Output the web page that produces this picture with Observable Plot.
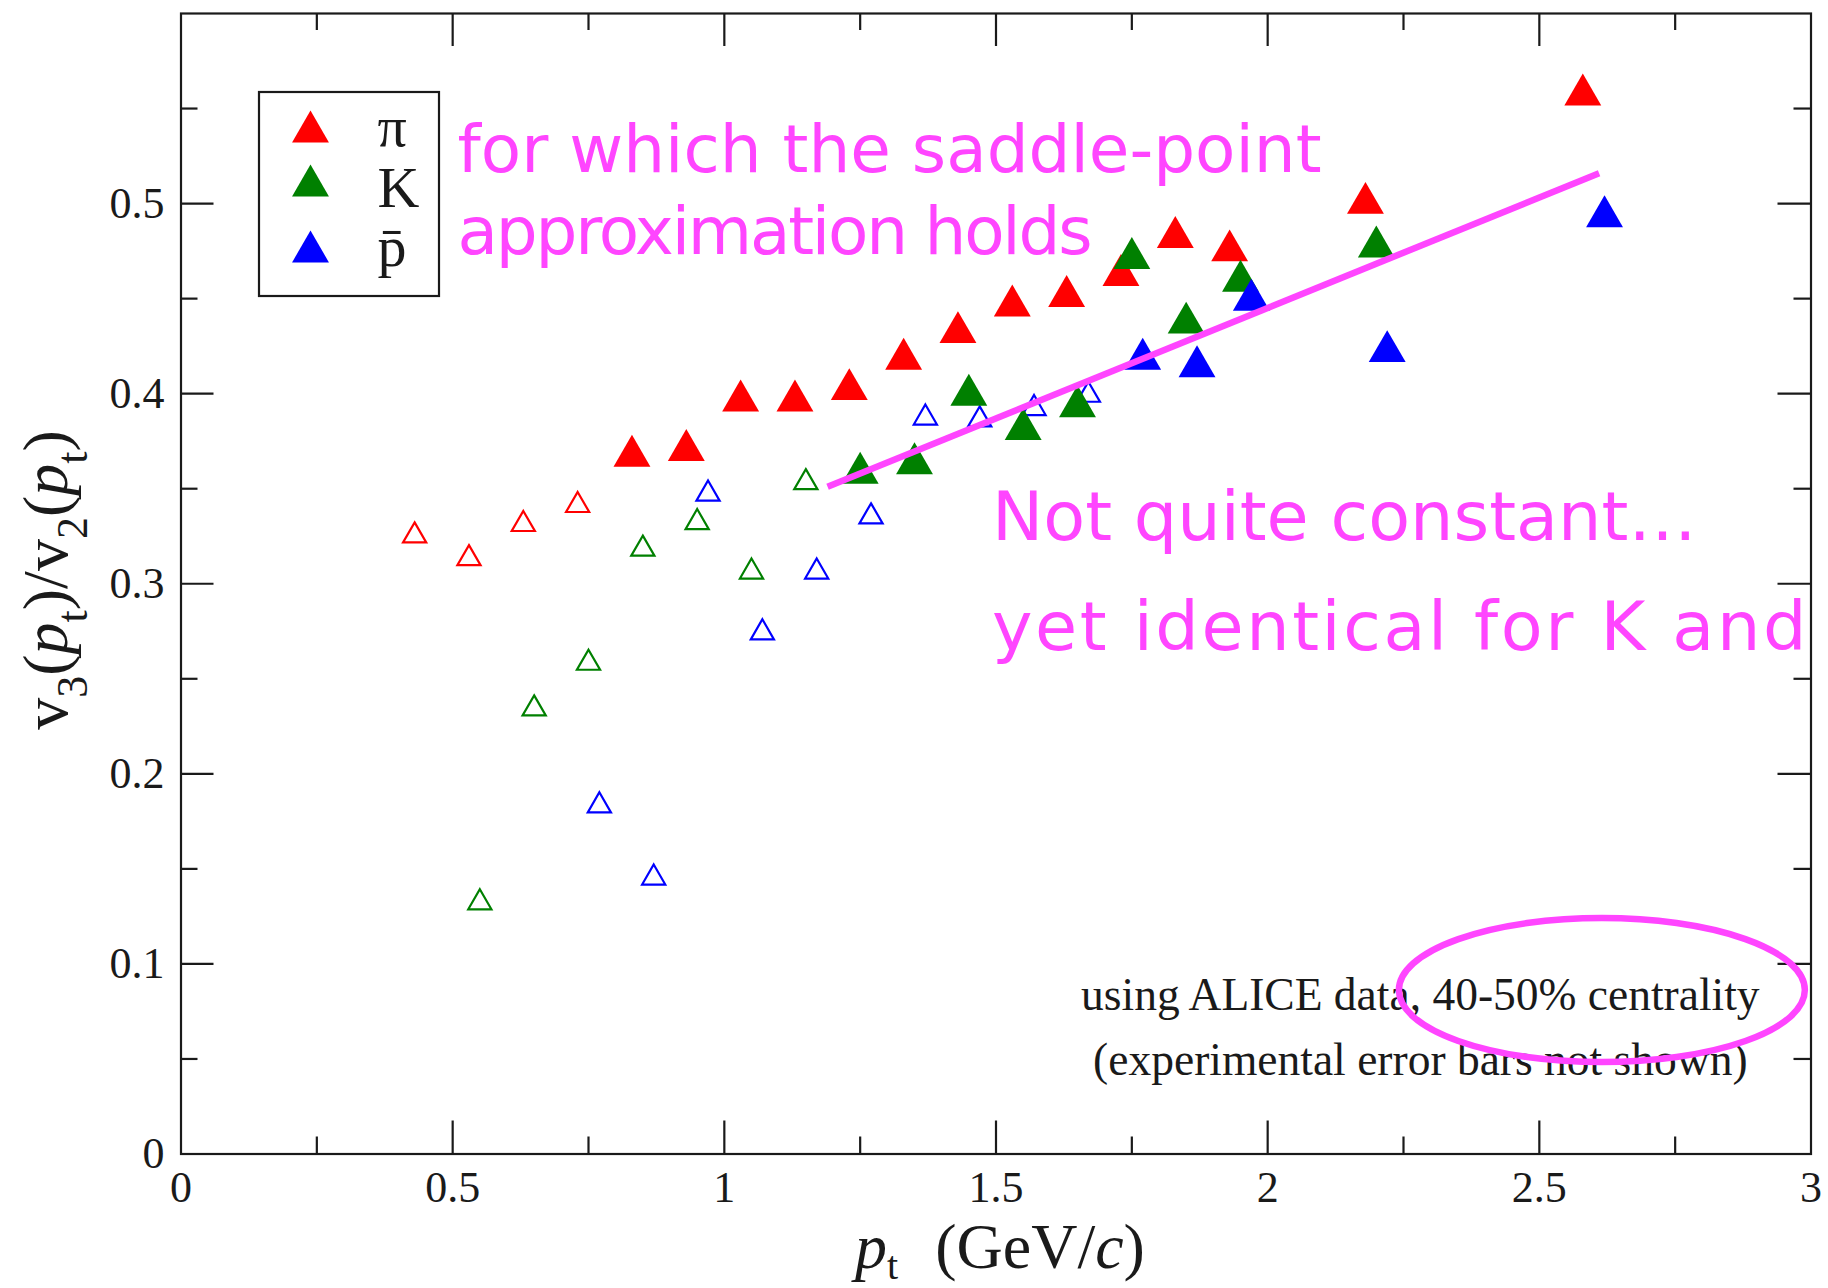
<!DOCTYPE html>
<html>
<head>
<meta charset="utf-8">
<script src="https://cdn.jsdelivr.net/npm/d3@7"></script>
<script src="https://cdn.jsdelivr.net/npm/@observablehq/plot@0.6"></script>
<style>
  html, body { margin: 0; padding: 0; background: #fff; }
  svg { display: block; }
</style>
</head>
<body>
<div id="chart"></div>
<script>
// ---------- data ----------
const piOpenX   = [0.43, 0.53, 0.63, 0.73];
const piOpenY   = [0.327, 0.315, 0.333, 0.343];
const piFullX   = [0.83, 0.93, 1.03, 1.13, 1.23, 1.33, 1.43, 1.53, 1.63, 1.73, 1.83, 1.93, 2.18, 2.58];
const piFullY   = [0.370, 0.373, 0.399, 0.399, 0.405, 0.421, 0.435, 0.449, 0.454, 0.465, 0.485, 0.478, 0.503, 0.560];

const kOpenX    = [0.55, 0.65, 0.75, 0.85, 0.95, 1.05, 1.15];
const kOpenY    = [0.134, 0.236, 0.260, 0.320, 0.334, 0.308, 0.355];
const kFullX    = [1.25, 1.35, 1.45, 1.55, 1.65, 1.75, 1.85, 1.95, 2.20];
const kFullY    = [0.361, 0.366, 0.402, 0.384, 0.396, 0.474, 0.440, 0.462, 0.480];

const pOpenX    = [0.77, 0.87, 0.97, 1.07, 1.17, 1.27, 1.37, 1.47, 1.57, 1.67];
const pOpenY    = [0.185, 0.147, 0.349, 0.276, 0.308, 0.337, 0.389, 0.388, 0.394, 0.401];
const pFullX    = [1.77, 1.87, 1.97, 2.22, 2.62];
const pFullY    = [0.421, 0.417, 0.452, 0.425, 0.496];

// annotation line (pink)
const trendX = [1.19, 2.61];
const trendY = [0.351, 0.516];

// ticks
const xTickLabels = [0, 0.5, 1, 1.5, 2, 2.5, 3];
const xMajor = [0.5, 1, 1.5, 2, 2.5];
const xMinor = [0.25, 0.75, 1.25, 1.75, 2.25, 2.75];
const yTickLabels = [0, 0.1, 0.2, 0.3, 0.4, 0.5];
const yMajor = [0.1, 0.2, 0.3, 0.4, 0.5];
const yMinor = [0.05, 0.15, 0.25, 0.35, 0.45, 0.55];

// legend
const legendLabels = ["π", "K", "p\u0304"];
const legendColors = ["#ff0000", "#008000", "#0000ff"];

// texts
const note1Lines = ["for which the saddle-point", "approximation holds"];
const note2Lines = ["Not quite constant…", "yet identical for K and"];
const captionLines = ["using ALICE data, 40-50% centrality", "(experimental error bars not shown)"];

// ---------- build ----------
const zip = (xs, ys) => xs.map((x, i) => ({x, y: ys[i]}));
const W = 1828, H = 1288;
const mL = 180.5, mR = 17.5, mT = 13, mB = 134.5;
const plotW = W - mL - mR, plotH = H - mT - mB;
const pink = "#ff45ff";
const ink = "#1a1a1a";
const serif = "Liberation Serif, Times New Roman, serif";
const sans = "DejaVu Sans, sans-serif";

const openR = 8.6, fullR = 13.7;
const openDy = 3.3, fullDy = 5.3;

const series = [
  {open: zip(piOpenX, piOpenY), full: zip(piFullX, piFullY), color: legendColors[0]},
  {open: zip(kOpenX, kOpenY),   full: zip(kFullX, kFullY),   color: legendColors[1]},
  {open: zip(pOpenX, pOpenY),   full: zip(pFullX, pFullY),   color: legendColors[2]}
];

const marks = [];
marks.push(Plot.frame({stroke: ink, strokeWidth: 2.2}));
// inward ticks on all four sides
const tickStyle = {stroke: ink, strokeWidth: 2.2};
marks.push(Plot.tickY(yMajor, {y: d => d, insetRight: plotW - 33, ...tickStyle}));
marks.push(Plot.tickY(yMajor, {y: d => d, insetLeft: plotW - 33, ...tickStyle}));
marks.push(Plot.tickY(yMinor, {y: d => d, insetRight: plotW - 17, ...tickStyle}));
marks.push(Plot.tickY(yMinor, {y: d => d, insetLeft: plotW - 17, ...tickStyle}));
marks.push(Plot.tickX(xMajor, {x: d => d, insetTop: plotH - 33, ...tickStyle}));
marks.push(Plot.tickX(xMajor, {x: d => d, insetBottom: plotH - 33, ...tickStyle}));
marks.push(Plot.tickX(xMinor, {x: d => d, insetTop: plotH - 17, ...tickStyle}));
marks.push(Plot.tickX(xMinor, {x: d => d, insetBottom: plotH - 17, ...tickStyle}));
// tick labels
marks.push(Plot.axisX({ticks: xTickLabels, tickSize: 0, tickPadding: 16.5, tickFormat: d => String(d), label: null, fontSize: 44, fill: ink}));
marks.push(Plot.axisY({ticks: yTickLabels, tickSize: 0, tickPadding: 16.5, tickFormat: d => String(d), label: null, fontSize: 44, fill: ink}));

// data points
for (const s of series) {
  marks.push(Plot.dot(s.open, {x: "x", y: "y", symbol: "triangle", r: openR, fill: "white", fillOpacity: 0, stroke: s.color, strokeWidth: 2.2, dy: openDy}));
}
for (const s of series) {
  marks.push(Plot.dot(s.full, {x: "x", y: "y", symbol: "triangle", r: fullR, fill: s.color, stroke: "none", dy: fullDy}));
}

// pink trend line
marks.push(Plot.line(zip(trendX, trendY), {x: "x", y: "y", stroke: pink, strokeWidth: 6.5, strokeLinecap: "butt"}));

// legend symbols & labels (pixel offsets from the frame's top-left corner)
const legSymDx = 129.5;
const legSymDy = [118.3, 172.3, 238.3];
const legTxtDx = 196.5;
const legTxtDy = [91.4, 152.4, 211.4];
legendLabels.forEach((lab, i) => {
  marks.push(Plot.dot([lab], {frameAnchor: "top-left", dx: legSymDx, dy: legSymDy[i], symbol: "triangle", r: fullR, fill: legendColors[i]}));
  marks.push(Plot.text([lab], {frameAnchor: "top-left", dx: legTxtDx, dy: legTxtDy[i], text: d => d, textAnchor: "start", lineAnchor: "top", lineHeight: 1, fontSize: 58, fontFamily: serif, fill: ink}));
});

// annotation texts (Plot: first baseline = anchor + 0.71 * lineHeight * fontSize)
marks.push(Plot.text([note1Lines.join("\n")], {x: 0.509, y: 0.5470, text: d => d, textAnchor: "start", lineAnchor: "top", lineHeight: 1.242, fontSize: 66, fontFamily: sans, fill: pink}));
marks.push(Plot.text([note2Lines.join("\n")], {x: 1.4926, y: 0.3637, text: d => d, textAnchor: "start", lineAnchor: "top", lineHeight: 1.6, fontSize: 68.5, fontFamily: sans, fill: pink}));
marks.push(Plot.text([captionLines.join("\n")], {x: 2.281, y: 0.1003, text: d => d, textAnchor: "middle", lineAnchor: "top", lineHeight: 1.43, fontSize: 45.5, fontFamily: serif, fill: ink}));

const plot = Plot.plot({
  width: W, height: H,
  marginLeft: mL, marginRight: mR, marginTop: mT, marginBottom: mB,
  x: {domain: [0, 3], label: null},
  y: {domain: [0, 0.6], label: null},
  style: {fontFamily: serif, fontSize: "44px", background: "white", color: ink, overflow: "visible"},
  marks
});

const svg = d3.select(plot);
const sx = plot.scale("x").apply, sy = plot.scale("y").apply;

// width tweaks for the hand-lettered annotation lines
const spacing = new Map([[note1Lines[1], -2.2], [note2Lines[1], 2.6]]);
svg.selectAll("tspan").each(function() {
  const s = spacing.get(this.textContent);
  if (s !== undefined) this.setAttribute("letter-spacing", s);
});

// legend box
svg.insert("rect", ":first-child")
  .attr("x", 259).attr("y", 92).attr("width", 180).attr("height", 204)
  .attr("fill", "none").attr("stroke", ink).attr("stroke-width", 2.2);

// pink ellipse around "40-50% centrality"
const ecx = sx(2.616), ecy = sy(0.086);
svg.append("ellipse")
  .attr("cx", ecx).attr("cy", ecy)
  .attr("rx", sx(2.616 + 0.3736) - ecx).attr("ry", ecy - sy(0.086 + 0.0379))
  .attr("fill", "none").attr("stroke", pink).attr("stroke-width", 6.5);

// axis titles with sub-/italic parts
function rich(g, parts, subSize, subShift) {
  let shifted = false;
  for (const [t, kind, dx] of parts) {
    const ts = g.append("tspan").text(t);
    if (dx) ts.attr("dx", dx);
    if (kind === "sub") { ts.attr("font-size", subSize).attr("dy", subShift); shifted = true; }
    else {
      if (shifted) { ts.attr("dy", -subShift); shifted = false; }
      if (kind === "it") ts.attr("font-style", "italic");
    }
  }
}
const yl = svg.append("text")
  .attr("transform", "translate(67,580) rotate(-90)")
  .attr("text-anchor", "middle").attr("font-family", serif).attr("font-size", 64).attr("fill", ink);
rich(yl, [["v"],["3","sub"],["("],["p","it"],["t","sub"],[")/v"],["2","sub"],["("],["p","it"],["t","sub"],[")"]], 44, 20);

const xl = svg.append("text")
  .attr("transform", "translate(1000,1268)")
  .attr("text-anchor", "middle").attr("font-family", serif).attr("font-size", 64).attr("fill", ink);
rich(xl, [["p","it"],["t","sub"],["(GeV/", "", 37],["c","it"],[")"]], 40, 11);

document.getElementById("chart").appendChild(plot);
</script>
</body>
</html>
